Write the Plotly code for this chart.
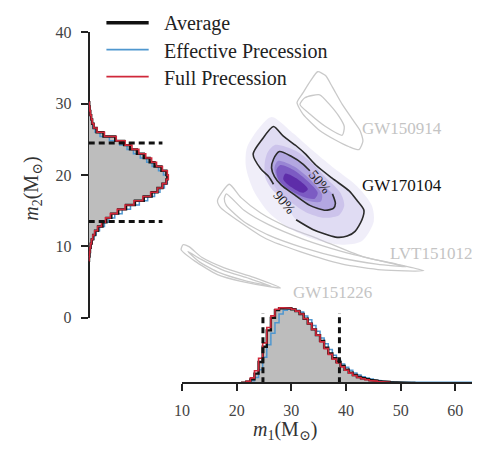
import plotly.graph_objects as go

# ---------------- data ----------------
# m1 marginal histograms (relative density per bin)
m1_bin_start = 21.0
m1_bin_width = 0.75
m1_average = [0.5, 1.5, 4, 10, 22, 38, 55, 68, 76, 78, 78, 78, 77, 75, 72, 67, 62, 56, 50, 44,
              37, 31, 26, 22, 18, 14, 11, 8.5, 6.5, 5.2, 4.2, 3.3, 2.6, 2.0, 1.6, 1.3, 1.0, 0.8,
              0.6, 0.4, 0.3, 0.15]
m1_effective = [0.3, 1, 2.5, 6, 14, 27, 40, 52, 63, 72, 76, 77, 77, 76, 74, 70, 66, 60, 54, 47,
                41, 35, 29, 24, 20, 16.5, 13.5, 10.5, 8.5, 6.8, 5.4, 4.3, 3.4, 2.7, 2.1, 1.7, 1.4,
                1.2, 1.1, 1.0, 1.0, 1.0, 1.0, 1.0, 1.0, 1.0, 1.0, 1.0, 1.0, 1.0, 1.0, 1.0, 1.0,
                1.0, 1.0, 1.0, 1.0, 1.0]
m1_full = [0.6, 2, 5.5, 13, 26, 42, 58, 70, 77, 78.5, 78.5, 78, 77, 75, 72, 67, 62, 56, 50, 43,
           36, 30, 25, 21, 17, 13.5, 10.5, 8, 6, 4.6, 3.6, 2.8, 2.2, 1.7, 1.3, 1.0, 0.8, 0.6, 0.4,
           0.25]

# m2 marginal histograms
m2_bin_start = 8.0
m2_bin_width = 0.6
m2_average = [0.3, 0.8, 1.3, 2, 3, 4.5, 6.5, 9.5, 14, 18, 23, 30, 38, 47, 56, 64, 70, 75, 79, 80,
              79, 74, 67, 62, 56, 49, 42, 36, 27, 15, 8, 5, 3.5, 2.5, 1.6, 1, 0.5]
m2_effective = [0.4, 1.0, 1.6, 2.5, 3.6, 5.3, 7.6, 11, 16, 20.5, 26.5, 34, 42.5, 51.5, 60, 67,
                72.5, 77, 80, 79.5, 76, 71, 64.5, 59, 52.5, 45.5, 39, 31.5, 21, 11.5, 6.5, 4.2,
                3, 2, 1.3, 0.7, 0.4]
m2_full = [0.3, 0.7, 1.2, 1.9, 2.8, 4.2, 6, 9, 13, 17, 22, 29, 37, 46, 55, 63, 70, 75, 79, 81,
           80, 75, 69, 64, 58, 51, 44, 37, 28, 16, 8.5, 5.2, 3.6, 2.6, 1.7, 1.1, 0.6]

# 90% credible intervals (dashed markers) and their marker height
m1_interval = [24.8, 38.8]
m2_interval = [13.5, 24.5]
m1_interval_height = 73
m2_interval_height = 75

# GW170104 contours (m1, m2)
gw170104_90_m1 = [30.87, 33.92, 38.06, 40.22, 41.66, 42.92, 43.28, 42.02, 40.58, 37.52, 34.46,
                  32.66, 30.87, 28.53, 26.73, 24.57, 23.0, 24.39, 25.83, 26.73]
gw170104_90_m2 = [13.74, 12.39, 11.31, 11.45, 12.12, 13.74, 15.08, 16.43, 17.78, 19.53, 21.41,
                  22.90, 24.11, 25.45, 26.80, 24.92, 22.94, 20.88, 19.80, 18.72]
gw170104_50_m1 = [37.52, 38.06, 37.70, 36.26, 33.38, 30.33, 28.17, 26.91, 26.37, 26.73, 27.81,
                  29.97, 32.12, 33.38]
gw170104_50_m2 = [17.37, 16.03, 15.35, 15.08, 15.76, 17.37, 18.59, 19.80, 21.01, 22.22, 23.30,
                  22.63, 21.55, 20.61]

# GW170104 posterior density levels (outlines, outermost first)
density_levels_m1 = [
    [26.37, 30.33, 33.92, 37.52, 42.02, 44.71, 45.07, 42.92, 39.32, 33.92, 29.43, 25.83, 23.13,
     21.69, 21.87, 24.03],
    [30.87, 33.92, 38.06, 40.22, 41.66, 42.92, 43.28, 42.02, 40.58, 37.52, 34.46, 32.66, 30.87,
     28.53, 26.73, 24.57, 23.0, 24.39, 25.83, 26.73, 28.8],
    [27.09, 30.69, 33.56, 36.08, 38.96, 39.68, 38.78, 36.08, 32.66, 29.43, 26.73, 25.29, 25.11,
     25.65],
    [37.52, 38.06, 37.70, 36.26, 33.38, 30.33, 28.17, 26.91, 26.37, 26.73, 27.81, 29.97, 32.12,
     33.38, 35.2],
    [27.6, 30.5, 33.4, 35.6, 35.4, 33.0, 29.8, 27.6, 26.9],
    [27.99, 30.33, 33.02, 34.82, 34.28, 32.12, 29.43, 27.63, 27.27],
    [28.89, 31.22, 33.02, 32.12, 29.97, 28.53],
]
density_levels_m2 = [
    [28.15, 25.86, 23.43, 21.14, 18.45, 15.76, 13.47, 10.77, 10.24, 11.04, 12.66, 14.81, 17.78,
     21.14, 23.84, 26.53],
    [13.74, 12.39, 11.31, 11.45, 12.12, 13.74, 15.08, 16.43, 17.78, 19.53, 21.41, 22.90, 24.11,
     25.45, 26.80, 24.92, 22.94, 20.88, 19.80, 18.72, 16.2],
    [24.24, 23.43, 21.82, 19.80, 17.51, 15.76, 14.41, 14.01, 14.81, 16.43, 17.78, 19.53, 21.55,
     23.16],
    [17.37, 16.03, 15.35, 15.08, 15.76, 17.37, 18.59, 19.80, 21.01, 22.22, 23.30, 22.63, 21.55,
     20.61, 19.0],
    [22.0, 21.2, 19.4, 17.3, 16.3, 16.4, 17.6, 19.3, 21.0],
    [21.41, 20.74, 19.12, 17.51, 16.70, 16.97, 18.05, 19.39, 20.74],
    [20.20, 19.39, 18.05, 17.51, 18.32, 19.39],
]
density_colors = ["rgba(205,200,236,0.30)", "rgba(190,182,230,0.32)", "rgba(165,150,220,0.35)",
                  "rgba(140,120,210,0.38)", "rgba(115,85,195,0.42)", "rgba(95,50,178,0.50)",
                  "rgba(78,22,155,0.65)"]

# earlier events: outer and inner credible contours (m1, m2)
gw150914_m1 = [[34.82, 36.26, 37.52, 39.32, 41.12, 42.56, 43.10, 42.38, 40.58, 38.06, 35.18,
                32.12, 31.04, 32.12, 33.56],
               [32.48, 31.58, 33.38, 36.26, 39.32, 39.68, 38.78, 36.98, 35.18]]
gw150914_m2 = [[34.48, 33.94, 32.32, 29.90, 27.88, 26.26, 24.78, 23.57, 23.97, 24.92, 26.26,
                28.55, 30.17, 31.52, 33.27],
               [30.84, 29.90, 28.55, 26.80, 25.59, 26.80, 28.15, 29.90, 31.25]]
lvt151012_m1 = [[18.63, 20.79, 24.39, 29.07, 35.00, 42.92, 49.21, 54.25, 46.51, 39.32, 31.58,
                 25.47, 20.79, 17.01, 16.48],
                [18.09, 21.33, 25.83, 32.12, 39.32, 46.51, 51.01, 45.61, 39.32, 32.12, 25.83,
                 21.33, 18.09, 17.73]]
lvt151012_m2 = [[18.72, 16.84, 14.68, 12.79, 11.04, 8.62, 7.54, 6.60, 6.73, 7.54, 9.29, 11.04,
                 13.33, 15.49, 16.43],
                [17.37, 15.08, 13.06, 11.04, 9.29, 7.95, 7.14, 7.54, 8.35, 9.83, 11.58, 13.47,
                 15.76, 16.70]]
gw151226_m1 = [[10.18, 11.26, 13.60, 17.73, 23.13, 27.99, 20.79, 16.48, 12.34, 9.82],
               [11.08, 13.42, 17.37, 22.23, 26.37, 21.33, 16.84, 13.24]]
gw151226_m2 = [[10.24, 9.97, 8.48, 7.00, 5.66, 4.18, 5.12, 6.06, 7.95, 9.56],
               [9.29, 8.22, 6.73, 5.52, 4.44, 5.25, 6.33, 7.81]]

event_names = ["GW150914", "GW170104", "LVT151012", "GW151226"]
event_label_m1 = [50.3, 50.3, 55.7, 37.5]
event_label_m2 = [26.5, 18.6, 9.0, 3.5]
event_label_colors = ["#c4c4c4", "#111111", "#c4c4c4", "#c4c4c4"]

level_names = ["50%", "90%"]
level_label_m1 = [35.3, 28.7]
level_label_m2 = [19.0, 16.1]

legend_names = ["Average", "Effective Precession", "Full Precession"]
series_colors = ["#111111", "#4f97cf", "#d0283a"]

# ---------------- figure ----------------
FONT = "Liberation Serif, Times New Roman, DejaVu Serif, serif"
GRAY_LINE = "#c9c9c9"
FILL_GRAY = "#bdbdbd"
# the figure is laid out inside the page body (8 px margin): 464 x 439
OFF, W, H = 8, 464, 439
M1_PER_PX = 1 / 5.5596


def step_outline(start, width, vals):
    pos, val = [start], [0]
    for i, v in enumerate(vals):
        a = start + i * width
        pos += [a, a + width]
        val += [v, v]
    pos.append(start + len(vals) * width)
    val.append(0)
    return pos, val


def closed(a):
    return list(a) + [a[0]]


def px_x(p):
    return (p - OFF) / W


def px_y(p):
    return 1 - (p - OFF) / H


fig = go.Figure()

# --- gray contours of earlier events ---
for xs_list, ys_list in [(gw150914_m1, gw150914_m2), (lvt151012_m1, lvt151012_m2),
                         (gw151226_m1, gw151226_m2)]:
    for xs, ys in zip(xs_list, ys_list):
        fig.add_trace(go.Scatter(x=closed(xs), y=closed(ys), mode="lines", xaxis="x2", yaxis="y",
                                 line=dict(color=GRAY_LINE, width=1.3, shape="spline",
                                           smoothing=0.6),
                                 showlegend=False, hoverinfo="skip"))

# --- GW170104 density shading ---
for xs, ys, col in zip(density_levels_m1, density_levels_m2, density_colors):
    fig.add_trace(go.Scatter(x=closed(xs), y=closed(ys), mode="lines", xaxis="x2", yaxis="y",
                             fill="toself", fillcolor=col,
                             line=dict(width=0, color=col, shape="spline", smoothing=0.8),
                             showlegend=False, hoverinfo="skip"))

# --- GW170104 black contours (with gaps for the level labels) ---
for xs, ys in [(gw170104_90_m1, gw170104_90_m2), (gw170104_50_m1, gw170104_50_m2)]:
    fig.add_trace(go.Scatter(x=xs, y=ys, mode="lines", xaxis="x2", yaxis="y",
                             line=dict(color="#2b2b2b", width=1.6, shape="spline",
                                       smoothing=0.7),
                             showlegend=False, hoverinfo="skip"))

# --- m1 marginal (bottom) ---
m1_avg_x, m1_avg_y = step_outline(m1_bin_start, m1_bin_width, m1_average)
fig.add_trace(go.Scatter(x=m1_avg_x, y=m1_avg_y, mode="lines", xaxis="x", yaxis="y3",
                         fill="toself", fillcolor=FILL_GRAY, line=dict(width=0),
                         showlegend=False, hoverinfo="skip"))
m1_series = [m1_average, m1_effective, m1_full]
m2_series = [m2_average, m2_effective, m2_full]
widths = [2.4, 1.5, 1.6]
for idx in [1, 0, 2]:
    px_, py_ = step_outline(m1_bin_start, m1_bin_width, m1_series[idx])
    fig.add_trace(go.Scatter(x=px_, y=py_, mode="lines", xaxis="x", yaxis="y3",
                             line=dict(color=series_colors[idx], width=widths[idx]),
                             name=legend_names[idx], showlegend=False, hoverinfo="skip"))

# --- m2 marginal (left) ---
m2_avg_pos, m2_avg_val = step_outline(m2_bin_start, m2_bin_width, m2_average)
fig.add_trace(go.Scatter(x=m2_avg_val, y=m2_avg_pos, mode="lines", xaxis="x3", yaxis="y",
                         fill="toself", fillcolor=FILL_GRAY, line=dict(width=0),
                         showlegend=False, hoverinfo="skip"))
for idx in [1, 0, 2]:
    pp, vv = step_outline(m2_bin_start, m2_bin_width, m2_series[idx])
    fig.add_trace(go.Scatter(x=vv, y=pp, mode="lines", xaxis="x3", yaxis="y",
                             line=dict(color=series_colors[idx], width=widths[idx]),
                             name=legend_names[idx], showlegend=False, hoverinfo="skip"))

# --- 90% interval markers ---
for v in m1_interval:
    fig.add_trace(go.Scatter(x=[v, v], y=[0, m1_interval_height], mode="lines", xaxis="x",
                             yaxis="y3", line=dict(color="#111111", width=3, dash="6px,4px"),
                             showlegend=False, hoverinfo="skip"))
for v in m2_interval:
    fig.add_trace(go.Scatter(x=[0, m2_interval_height], y=[v, v], mode="lines", xaxis="x3",
                             yaxis="y", line=dict(color="#111111", width=3, dash="6px,4px"),
                             showlegend=False, hoverinfo="skip"))

annotations = []
shapes = []
for name, xv, yv, col in zip(event_names, event_label_m1, event_label_m2, event_label_colors):
    annotations.append(dict(text=name, x=xv, y=yv, xref="x2", yref="y", showarrow=False,
                            xanchor="center", yanchor="middle",
                            font=dict(family=FONT, size=17, color=col)))
for name, xv, yv in zip(level_names, level_label_m1, level_label_m2):
    annotations.append(dict(text=name, x=xv, y=yv, xref="x2", yref="y", showarrow=False,
                            xanchor="center", yanchor="middle", textangle=50,
                            font=dict(family=FONT, size=14, color="#222222")))
annotations.append(dict(text="<i>m</i><sub>1</sub>(M<sub>⊙</sub>)", x=px_x(282),
                        y=px_y(439), xref="paper", yref="paper", showarrow=False,
                        xanchor="center", yanchor="middle",
                        font=dict(family=FONT, size=20, color="#333333")))
annotations.append(dict(text="<i>m</i><sub>2</sub>(M<sub>⊙</sub>)", x=px_x(24),
                        y=px_y(188), xref="paper", yref="paper", showarrow=False,
                        xanchor="center", yanchor="middle", textangle=-90,
                        font=dict(family=FONT, size=20, color="#333333")))

# legend (drawn as key lines + labels)
legend_rows_y = [15, 43, 71]
legend_line_w = [3.5, 1.8, 1.8]
for name, col, yy, lw in zip(legend_names, series_colors, legend_rows_y, legend_line_w):
    shapes.append(dict(type="line", xref="paper", yref="paper", x0=px_x(100), x1=px_x(143),
                       y0=px_y(yy), y1=px_y(yy), line=dict(color=col, width=lw)))
    annotations.append(dict(text=name, x=px_x(157), y=px_y(yy + 1), xref="paper",
                            yref="paper", showarrow=False, xanchor="left", yanchor="middle",
                            font=dict(family=FONT, size=20, color="#222222")))

axis_common = dict(showline=True, linecolor="#222222", linewidth=2, ticks="outside",
                   ticklen=7, tickwidth=2, tickcolor="#222222", showgrid=False,
                   zeroline=False, tickfont=dict(family=FONT, size=16, color="#444444"),
                   ticklabelstandoff=6)

x_right = 10 + (472 - 177) * M1_PER_PX      # axis runs to the plot's right edge
x2_left = 10 - (177 - 82) * M1_PER_PX

fig.update_layout(
    margin=dict(l=0, r=0, t=0, b=0),
    paper_bgcolor="white", plot_bgcolor="rgba(0,0,0,0)",
    showlegend=False,
    xaxis=dict(domain=[px_x(177), 1], range=[10, x_right], anchor="free",
               position=px_y(390), tickvals=[10, 20, 30, 40, 50, 60], **axis_common),
    yaxis=dict(domain=[px_y(322), px_y(25)], range=[0, 40], anchor="free",
               position=px_x(82), tickvals=[0, 10, 20, 30, 40], **axis_common),
    xaxis2=dict(domain=[px_x(82), 1], range=[x2_left, x_right], anchor="y", visible=False),
    xaxis3=dict(domain=[px_x(82), px_x(172)], range=[0, 90], anchor="y", visible=False),
    yaxis3=dict(domain=[px_y(390), px_y(300)], range=[0, 90], anchor="x", visible=False),
    annotations=annotations,
    shapes=shapes,
    font=dict(family=FONT),
)

fig.write_html("out.html", config={"displayModeBar": False})
